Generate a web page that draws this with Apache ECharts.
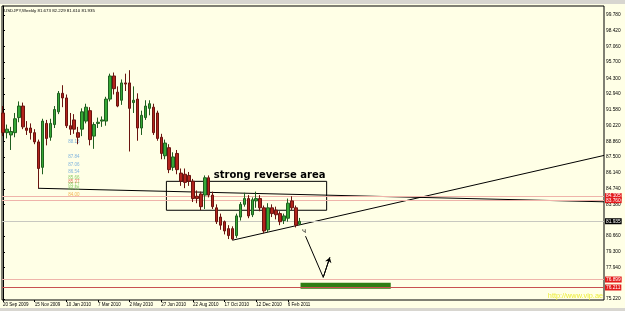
<!DOCTYPE html>
<html><head><meta charset="utf-8">
<script src="https://cdn.jsdelivr.net/npm/echarts@6/dist/echarts.min.js"></script>
<style>html,body{margin:0;padding:0;background:#FFFFE6;}#c{width:625px;height:311px;}</style>
</head><body><div id="c"></div>
<script>
// ---- data ----
const xLabels = ['20 Sep 2009','15 Nov 2009','10 Jan 2010','7 Mar 2010','2 May 2010','27 Jun 2010','22 Aug 2010','17 Oct 2010','12 Dec 2010','6 Feb 2011'];
const xLabelIdx = [0,8,16,24,32,40,48,56,64,72];
const yTicks = [75.22,77.94,79.30,80.66,83.38,84.74,86.14,87.50,88.86,90.22,91.58,92.94,94.30,95.70,97.06,98.42,99.78];
const opens  = [91.3,89.6,89.4,89.6,90.9,91.9,90.0,90.0,89.6,88.8, 86.6,90.4,89.2,90.3,91.4,93.0,92.6,90.2,90.7,89.6, 89.9,90.6,91.5,89.3,90.4,90.6,90.6,92.5,94.5,93.1, 92.4,93.9,93.9,92.2,92.5,90.0,90.9,91.7,91.8,91.3, 89.2,87.6,88.3,86.6,87.8,86.1,86.0,85.9,85.4,84.1, 84.3,84.2,85.7,84.2,83.1,82.3,81.9,81.3,81.3,80.7, 82.3,83.4,83.9,82.5,83.7,83.9,83.1,81.2,83.1,82.9, 82.6,82.0,82.2,83.7,83.1,81.673];
const closes = [89.6,89.9,89.7,90.8,91.9,90.1,89.8,89.6,88.8,86.5, 90.6,89.1,90.4,91.6,93.0,92.6,90.2,89.9,89.9,89.2, 91.4,91.8,89.0,90.3,90.5,90.7,92.5,94.5,93.4,91.9, 93.9,93.8,91.7,92.4,90.0,91.1,91.9,92.1,89.6,89.1, 87.8,88.7,86.4,87.5,86.4,85.4,85.3,85.4,83.9,83.9, 83.2,85.7,84.2,83.2,81.9,81.6,81.1,80.7,80.4,82.4, 83.4,83.9,82.4,83.8,83.9,83.1,81.1,83.1,82.6,82.5, 81.9,82.4,83.5,83.1,81.6,81.935];
const lows   = [89.3,89.1,88.1,89.2,90.5,89.9,89.4,89.0,88.6,84.8, 86.0,88.5,88.9,90.0,91.2,91.8,90.0,89.4,89.5,88.6, 89.3,90.4,88.5,88.2,90.0,90.1,90.2,92.3,92.9,91.8, 92.0,93.2,87.97,91.3,88.9,89.4,90.7,91.1,89.4,88.9, 87.3,87.3,86.1,86.3,86.0,85.0,84.8,85.0,83.6,83.5, 82.9,83.0,84.0,83.0,81.7,81.2,80.8,80.4,80.3,80.5, 82.0,83.2,82.2,82.3,83.1,82.8,80.9,81.0,82.3,82.1, 81.6,81.7,81.9,82.9,81.4,81.61];
const highs  = [91.9,90.3,90.1,91.3,92.3,92.2,90.6,90.4,89.9,89.0, 90.8,90.7,90.8,91.9,93.2,93.7,92.9,91.3,91.2,90.1, 91.7,92.1,91.8,90.5,90.9,91.0,92.7,94.7,94.8,93.6, 94.2,94.7,95.0,93.6,93.0,91.5,92.4,92.4,92.1,91.5, 89.5,89.0,88.6,87.9,88.1,86.5,86.5,86.2,85.6,84.6, 84.5,85.9,85.9,84.5,83.4,82.6,82.0,81.6,81.5,82.6, 83.6,84.4,84.2,84.0,84.5,84.2,83.3,83.5,83.4,83.2, 82.8,82.6,83.9,84.1,83.3,82.229];
const levelValues = [84.105, 83.760, 81.935, 76.899, 76.211];
const supportLine = [[8.86, 84.79],[151.9, 83.62]];
const trendLine = [[58.0, 80.30],[151.9, 87.63]];
const reverseBox = [[41.3, 85.39],[81.8, 82.89]];
const targetBox = [[75.2, 76.62],[98.0, 76.10]];
const arrowPath = [[76.46, 80.65],[80.94, 77.09],[82.6, 78.81]];
const arrowMark = [76.1, 81.04];
const indicatorLabels = ['88.18','87.84','87.06','86.54','85.66','85.37','85.17','84.55','84.00'];
const indicatorLevels = [88.84,87.55,86.86,86.25,85.74,85.39,85.13,84.79,84.27];
const titleText = 'USDJPY,Weekly 81.673 82.229 81.610 81.935';

// ---- chart ----
const FONT = '"Liberation Sans", Arial, sans-serif';
const chart = echarts.init(document.getElementById('c'), null, {renderer:'canvas'});
const candleData = opens.map((o,i)=>[i, o, closes[i], lows[i], highs[i]]);
const levelStyles = [
  {line:'#EFB4AA', bg:'#E31B1B', fg:'#fff'},
  {line:'#EFB4AA', bg:'#E31B1B', fg:'#fff'},
  {line:'#C8C8C0', bg:'#000000', fg:'#fff'},
  {line:'#EFB4AA', bg:'#E31B1B', fg:'#fff'},
  {line:'#C85050', bg:'#E31B1B', fg:'#fff'}
];
const indicatorColors = ['#5FA0DC','#5FA0DC','#5FA0DC','#5FA0DC','#6DBE4A','#E0503C','#6DBE4A','#6DBE4A','#F0A030'];

const option = {
  animation:false,
  backgroundColor:'#FFFFE6',
  grid:{left:2, right:21, top:6, bottom:11, show:true, borderColor:'#000', borderWidth:1, backgroundColor:'transparent'},
  xAxis:{type:'value', min:-0.25, max:151.9, splitLine:{show:false},
    axisLine:{show:false},
    axisTick:{show:true, customValues:xLabelIdx, length:2, lineStyle:{color:'#000'}},
    axisLabel:{customValues:xLabelIdx, formatter:v=>xLabels[Math.round(v/8)]||'', align:'left', fontSize:4.5, color:'#000', margin:2, fontFamily:FONT}},
  yAxis:{type:'value', position:'right', min:75.13, max:100.55, splitLine:{show:false},
    axisLine:{show:true, lineStyle:{color:'#000'}},
    axisTick:{show:true, customValues:yTicks, length:2, lineStyle:{color:'#000'}},
    axisLabel:{customValues:yTicks, formatter:v=>v.toFixed(3), fontSize:4.8, color:'#000', margin:2, fontFamily:FONT}},
  graphic:[
    {type:'rect', shape:{x:0,y:0,width:625,height:4}, style:{fill:'#D8D6D0'}, z:100},
    {type:'rect', shape:{x:0,y:308,width:625,height:3}, style:{fill:'#D8D6D0'}, z:100},
    {type:'text', left:4, top:9, style:{text:titleText, fontSize:4.4, fill:'#000', fontFamily:FONT}, z:100},
    {type:'text', right:22, bottom:12, style:{text:'http://www.vip.ae', fontSize:7.3, fill:'#EDED3A', fontFamily:FONT}, z:2}
  ],
  series:[
    {type:'line', data:supportLine, symbol:'none', silent:true, lineStyle:{color:'#000', width:1}, z:3,
      markLine:{silent:true, symbol:'none', animation:false,
        data:levelValues.map((v,k)=>({yAxis:v, lineStyle:{color:levelStyles[k].line, width:1, type:'solid'},
          label:{show:true, position:'end', distance:1, formatter:v.toFixed(3), color:levelStyles[k].fg, backgroundColor:levelStyles[k].bg, fontSize:4.8, padding:[1,1,0,1], fontFamily:FONT}}))},
      markArea:{silent:true,
        data:[
          [{xAxis:reverseBox[0][0], yAxis:reverseBox[0][1], itemStyle:{color:'rgba(0,0,0,0)', borderColor:'#000', borderWidth:1}}, {xAxis:reverseBox[1][0], yAxis:reverseBox[1][1]}],
          [{xAxis:targetBox[0][0], yAxis:targetBox[0][1], itemStyle:{color:'#2E7D14', borderWidth:0}}, {xAxis:targetBox[1][0], yAxis:targetBox[1][1]}]
        ]},
      markPoint:{silent:true, symbol:'circle', symbolSize:0,
        data:[
          {coord:[reverseBox[1][0]-0.3, reverseBox[0][1]+0.05], label:{show:true, position:'inside', formatter:'strong reverse area', align:'right', verticalAlign:'bottom', fontSize:10, fontWeight:'bold', color:'#000', fontFamily:'"DejaVu Sans", sans-serif'}},
          {coord:arrowMark, label:{show:true, position:'inside', formatter:'ч', fontSize:7, color:'#000', fontFamily:'"DejaVu Sans", sans-serif'}}
        ]}
    },
    {type:'line', data:trendLine, symbol:'none', silent:true, lineStyle:{color:'#000', width:1}, z:3},
    {type:'line', data:arrowPath, symbol:'none', silent:true, lineStyle:{color:'#000', width:1}, z:3,
      markLine:{silent:true, symbol:['none','arrow'], symbolSize:5, lineStyle:{color:'#000', width:1, type:'solid'}, label:{show:false},
        data:[[{coord:arrowPath[1]},{coord:arrowPath[2]}]]}},
    {type:'scatter', silent:true, symbolSize:0, z:4,
      data:indicatorLabels.map((t,k)=>({value:[16.5, indicatorLevels[k]], label:{show:true, position:'right', distance:0, formatter:t, color:indicatorColors[k], fontSize:4.5, fontFamily:FONT}}))},
    {type:'candlestick', data:candleData, barWidth:3, z:5,
      itemStyle:{color:'#35A835', color0:'#B3241C', borderColor:'#1F5F1F', borderColor0:'#6A1410', borderWidth:1}}
  ]
};
chart.setOption(option);
</script>
</body></html>
